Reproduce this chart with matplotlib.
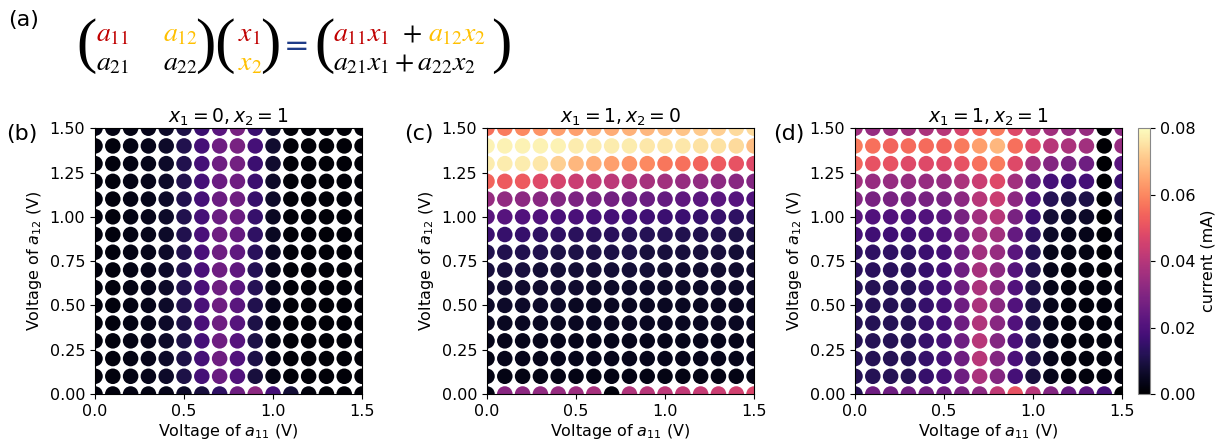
import numpy as np
import matplotlib
matplotlib.use("Agg")
import matplotlib.pyplot as plt

# grid of gate voltages (V)
v11 = np.round(np.arange(0, 1.51, 0.1), 2)
v12 = np.round(np.arange(0, 1.51, 0.1), 2)

# measured current (mA), rows listed from a12 = 1.5 V (top) down to 0 V
cur_01 = [
    [.003,.003,.003,.004,.006,.010,.016,.022,.028,.016,.006,.001,.001,.001,.001,.001],
    [.002,.002,.003,.004,.006,.011,.018,.026,.028,.018,.007,.001,.001,.001,.001,.001],
    [.002,.002,.003,.004,.006,.011,.018,.026,.027,.016,.007,.001,.001,.001,.001,.001],
    [.002,.002,.003,.004,.006,.011,.018,.025,.026,.016,.006,.001,.001,.001,.001,.001],
    [.002,.002,.003,.004,.006,.011,.018,.025,.026,.015,.006,.001,.001,.001,.001,.001],
    [.002,.002,.003,.004,.006,.011,.018,.025,.025,.015,.005,.001,.001,.001,.001,.001],
    [.002,.002,.003,.004,.006,.011,.019,.026,.024,.014,.005,.001,.001,.001,.001,.001],
    [.002,.002,.003,.004,.006,.011,.019,.026,.023,.013,.005,.001,.001,.001,.001,.001],
    [.002,.002,.003,.004,.006,.011,.019,.026,.023,.012,.004,.001,.001,.001,.001,.001],
    [.002,.002,.003,.004,.006,.011,.019,.026,.022,.012,.004,.001,.001,.001,.001,.001],
    [.002,.002,.003,.004,.006,.011,.019,.026,.022,.011,.004,.001,.001,.001,.001,.001],
    [.002,.002,.003,.004,.006,.010,.019,.026,.021,.010,.003,.001,.001,.001,.001,.001],
    [.002,.002,.003,.004,.006,.010,.018,.026,.021,.010,.003,.001,.001,.001,.001,.001],
    [.002,.002,.003,.004,.006,.010,.018,.026,.020,.010,.003,.001,.001,.001,.001,.001],
    [.002,.002,.003,.004,.006,.010,.018,.025,.020,.009,.003,.001,.001,.001,.001,.001],
    [.002,.002,.003,.003,.004,.006,.009,.014,.026,.032,.018,.008,.002,.001,.001,.001],
]

cur_10 = [
    [.056,.058,.060,.062,.064,.064,.066,.066,.067,.068,.069,.070,.071,.072,.074,.074],
    [.078,.078,.078,.078,.078,.077,.077,.077,.077,.076,.076,.076,.075,.075,.074,.069],
    [.077,.077,.077,.076,.072,.068,.066,.064,.062,.060,.057,.056,.054,.052,.050,.048],
    [.054,.052,.052,.048,.046,.044,.042,.041,.039,.037,.036,.034,.033,.032,.031,.030],
    [.034,.033,.032,.031,.030,.029,.028,.027,.026,.025,.024,.023,.022,.022,.021,.020],
    [.022,.021,.020,.020,.019,.019,.018,.018,.018,.017,.016,.016,.015,.015,.014,.013],
    [.016,.015,.015,.014,.014,.013,.013,.013,.012,.012,.012,.011,.011,.011,.010,.010],
    [.011,.011,.011,.011,.010,.010,.010,.010,.010,.009,.009,.009,.009,.009,.008,.008],
    [.009,.009,.009,.008,.008,.008,.008,.008,.008,.008,.007,.007,.007,.007,.007,.007],
    [.007,.007,.007,.007,.007,.007,.006,.006,.006,.006,.006,.006,.006,.006,.006,.006],
    [.006,.006,.006,.006,.006,.005,.005,.005,.005,.005,.005,.005,.005,.005,.005,.005],
    [.005,.005,.005,.005,.005,.005,.005,.005,.005,.005,.005,.005,.005,.005,.005,.005],
    [.004,.004,.004,.004,.004,.004,.004,.004,.004,.004,.004,.004,.004,.004,.004,.004],
    [.003,.004,.004,.004,.004,.004,.004,.004,.004,.004,.004,.004,.004,.004,.004,.004],
    [.003,.003,.003,.003,.003,.003,.003,.003,.003,.003,.003,.003,.003,.003,.003,.003],
    [.003,.031,.032,.033,.034,.035,.037,.002,.039,.040,.041,.042,.043,.044,.045,.047],
]

cur_11 = [
    [.036,.034,.035,.036,.038,.040,.046,.054,.058,.048,.040,.036,.034,.034,.000,.032],
    [.058,.056,.054,.055,.055,.054,.058,.064,.068,.056,.048,.040,.038,.036,.000,.034],
    [.054,.050,.050,.048,.048,.048,.050,.056,.058,.048,.036,.030,.028,.026,.000,.022],
    [.036,.034,.034,.034,.034,.034,.038,.044,.048,.036,.024,.018,.016,.018,.000,.016],
    [.030,.028,.028,.028,.028,.028,.032,.040,.044,.032,.020,.012,.010,.010,.000,.010],
    [.022,.020,.020,.020,.020,.022,.028,.036,.040,.028,.016,.008,.006,.006,.000,.006],
    [.018,.017,.017,.017,.018,.020,.026,.036,.036,.024,.014,.006,.004,.004,.001,.004],
    [.014,.014,.014,.014,.016,.018,.026,.036,.034,.022,.012,.004,.003,.003,.001,.003],
    [.013,.013,.013,.013,.015,.018,.026,.037,.032,.021,.011,.004,.002,.002,.001,.002],
    [.012,.012,.012,.012,.015,.018,.026,.038,.031,.020,.010,.004,.002,.002,.002,.002],
    [.012,.012,.012,.012,.015,.018,.026,.038,.031,.020,.010,.004,.002,.002,.002,.002],
    [.012,.012,.012,.012,.015,.018,.026,.039,.031,.020,.010,.004,.002,.002,.002,.002],
    [.012,.012,.012,.012,.015,.018,.026,.040,.030,.019,.010,.004,.002,.002,.002,.002],
    [.012,.012,.012,.012,.015,.018,.026,.040,.030,.019,.010,.004,.002,.002,.002,.002],
    [.012,.012,.012,.012,.015,.018,.026,.038,.030,.018,.009,.004,.002,.002,.002,.002],
    [.012,.026,.026,.026,.026,.026,.028,.032,.042,.050,.040,.030,.024,.022,.018,.000],
]

titles = [r"$x_1 = 0, x_2 = 1$", r"$x_1 = 1, x_2 = 0$", r"$x_1 = 1, x_2 = 1$"]
panel_tags = ["(b)", "(c)", "(d)"]

fig = plt.figure(figsize=(12.25, 4.43), dpi=100)

X, Y = np.meshgrid(v11, v12[::-1])
lefts = [95/1225, 487/1225, 855/1225]
tag_x = [6/1225, 404/1225, 773/1225]
for k, data in enumerate([cur_01, cur_10, cur_11]):
    ax = fig.add_axes([lefts[k], 0.1106, 0.218, 0.600])
    sc = ax.scatter(X.ravel(), Y.ravel(), c=np.array(data).ravel(), cmap="magma",
                    vmin=0, vmax=0.08, s=125, edgecolors="none")
    ax.set_xlim(0, 1.5)
    ax.set_ylim(0, 1.5)
    ax.set_xticks([0, 0.5, 1.0, 1.5])
    ax.set_yticks(np.arange(0, 1.51, 0.25))
    ax.tick_params(labelsize=11.5)
    ax.set_xlabel(r"Voltage of $a_{11}$ (V)", fontsize=11.5, labelpad=2)
    ax.set_ylabel(r"Voltage of $a_{12}$ (V)", fontsize=11.5)
    ax.set_title(titles[k], fontsize=13.5, pad=3)
    fig.text(tag_x[k], 0.675, panel_tags[k], fontsize=16, ha="left", va="bottom")

cax = fig.add_axes([1138/1225, 0.1106, 12/1225, 0.600])
cb = fig.colorbar(sc, cax=cax)
cb.set_ticks([0, 0.02, 0.04, 0.06, 0.08])
cb.ax.tick_params(labelsize=11.5)
cb.set_label("current (mA)", fontsize=11.5)
cb.outline.set_edgecolor("#888888")

# (a) matrix equation
red = "#c00000"
gold = "#ffc000"
navy = "#1f3c88"
fs = 20
def fx(px):
    return px / 1225
def fy(py):
    return 1 - py / 443
r1, r2, mid = 33, 62, 46
fig.text(fx(8), fy(20), "(a)", fontsize=16, va="center")
def paren(px, s):
    fig.text(fx(px), fy(mid), s, fontsize=44, family="Liberation Serif",
             va="center", ha="left")
def m(px, py, s, col):
    fig.text(fx(px), fy(py), s, fontsize=fs, color=col, va="center", ha="left", math_fontfamily="stix")
paren(76, "(")
m(96, r1, r"$a_{11}$", red)
m(163, r1, r"$a_{12}$", gold)
m(96, r2, r"$a_{21}$", "black")
m(163, r2, r"$a_{22}$", "black")
paren(195, ")(")
m(238, r1, r"$x_1$", red)
m(238, r2, r"$x_2$", gold)
paren(260, ")")
fig.text(fx(284), fy(mid + 1), "=", fontsize=22, color=navy, va="center", ha="left")
paren(314, "(")
m(333, r1, r"$a_{11}x_1$", red)
m(402, r1, r"$+$", "black")
m(428, r1, r"$a_{12}x_2$", gold)
m(333, r2, r"$a_{21}x_1 + a_{22}x_2$", "black")
paren(491, ")")

fig.savefig("out.png", dpi=100)
